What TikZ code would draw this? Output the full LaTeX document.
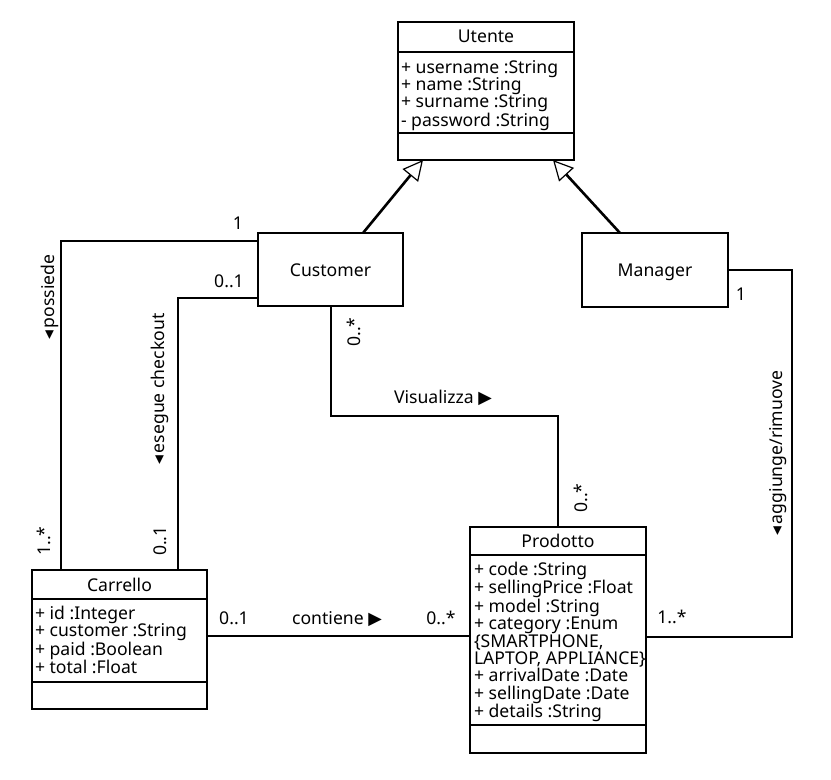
\documentclass[tikz,border=0pt]{standalone}
\usepackage{fontspec}
\setmainfont{Noto Sans}
\newfontfamily\symfont{DejaVu Sans}
\usetikzlibrary{arrows.meta}
\newcommand\lblfont{\fontsize{17.6bp}{17.3bp}\selectfont}
\newcommand\topstrut{\rule{0pt}{13bp}}
\newcommand\ltri{{\symfont\char"25C2}\hspace{2.5bp}}
\newcommand\rtri{{\symfont\char"25B6}}
\begin{document}
\begin{tikzpicture}[x=1bp,y=-1bp,
  every node/.style={inner sep=0pt, outer sep=0pt},
  classbox/.style={draw, line width=1.6bp, fill=white},
  sepline/.style={line width=1.6bp},
  assoc/.style={line width=2.6bp},
  gen/.style={line width=2.6bp, -{Triangle[open, length=20bp, width=20bp, line width=1.2bp]}},
  lbl/.style={anchor=base, font=\lblfont},
  rlbl/.style={anchor=base, rotate=90, font=\lblfont},
  attr/.style={anchor=north west, align=left, font=\lblfont},
]
\fill[white] (0,0) rectangle (831,780);
\useasboundingbox (0,0) rectangle (831,780);

% class boxes
\node[classbox, minimum width=176bp, minimum height=138bp] (utente) at (486,91) {};
\node[classbox, minimum width=145bp, minimum height=73bp] (customer) at (330.5,269.5) {};
\node[classbox, minimum width=146bp, minimum height=74bp] (manager) at (655,270) {};
\node[classbox, minimum width=175bp, minimum height=139bp] (carrello) at (119.5,639.5) {};
\node[classbox, minimum width=176bp, minimum height=226bp] (prodotto) at (558,640) {};

% separators
\draw[sepline] (utente.west |- 0,52) -- (utente.east |- 0,52);
\draw[sepline] (utente.west |- 0,133) -- (utente.east |- 0,133);
\draw[sepline] (carrello.west |- 0,599) -- (carrello.east |- 0,599);
\draw[sepline] (carrello.west |- 0,682) -- (carrello.east |- 0,682);
\draw[sepline] (prodotto.west |- 0,555) -- (prodotto.east |- 0,555);
\draw[sepline] (prodotto.west |- 0,725) -- (prodotto.east |- 0,725);

% class texts
\node[lbl] (utenteH) at (486,43) {Utente};
\node[attr] (utenteA) at (401,60) {\topstrut+ username :String\\+ name :String\\+ surname :String\\- password :String};
\node[lbl] (customerH) at (330.5,276) {Customer};
\node[lbl] (managerH) at (655,276) {Manager};
\node[lbl] (carrelloH) at (119.5,591) {Carrello};
\node[attr] (carrelloA) at (35,606) {\topstrut+ id :Integer\\+ customer :String\\+ paid :Boolean\\+ total :Float};
\node[lbl] (prodottoH) at (558,547) {Prodotto};
\node[attr] (prodottoA) at (474,562) {\topstrut+ code :String\\+ sellingPrice :Float\\+ model :String\\+ category :Enum\\\{SMARTPHONE,\\LAPTOP, APPLIANCE\}\\+ arrivalDate :Date\\+ sellingDate :Date\\+ details :String};

% generalizations
\draw[gen] (customer.north -| 363,0) -- (utente.south -| 423,0);
\draw[gen] (manager.north -| 620,0) -- (utente.south -| 553,0);

% associations
\draw[assoc] (customer.west |- 0,241) -| (carrello.north -| 61,0);
\draw[assoc] (customer.west |- 0,298) -| (carrello.north -| 178,0);
\draw[assoc] (customer.south -| 331,0) |- (444,416) -| (prodotto.north -| 558,0);
\draw[assoc] (carrello.east |- 0,636) -- (prodotto.west |- 0,636);
\draw[assoc] (manager.east |- 0,270) -| (792,450) |- (prodotto.east |- 0,637);

% association labels
\node[lbl] (m1) at (238,229) {1};
\node[lbl] (m2) at (229,287) {0..1};
\node[rlbl] (m3) at (50,541) {1..*};
\node[rlbl] (m4) at (166,541) {0..1};
\node[rlbl] (possiede) at (54,297) {\ltri possiede};
\node[rlbl] (esegue) at (164,389) {\ltri esegue checkout};
\node[rlbl] (m5) at (360,332) {0..*};
\node[lbl] (visualizza) at (443,403) {Visualizza \rtri};
\node[rlbl] (m6) at (587,498) {0..*};
\node[lbl] (m7) at (234,624) {0..1};
\node[lbl] (contiene) at (337,624) {contiene \rtri};
\node[lbl] (m8) at (441,624) {0..*};
\node[lbl] (m9) at (741,300) {1};
\node[lbl] (m10) at (672,623) {1..*};
\node[rlbl] (aggiunge) at (782,453) {\ltri aggiunge/rimuove};
\end{tikzpicture}
\end{document}
